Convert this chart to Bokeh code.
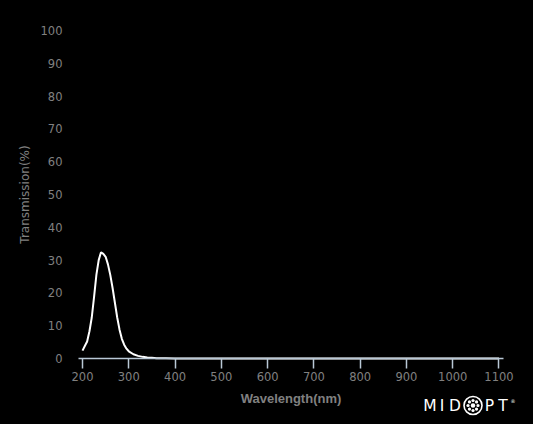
import math
from bokeh.plotting import figure
from bokeh.models import Label, FixedTicker, Range1d
from bokeh.embed import file_html
from bokeh.resources import INLINE

# ---- data ----
wavelength = [200, 205, 210, 215, 220, 225, 230, 235, 240, 245, 250, 255, 260, 265,
              270, 275, 280, 285, 290, 295, 300, 310, 320, 330, 340, 350, 360, 380,
              400, 500, 600, 700, 800, 900, 1000, 1100]
transmission = [2.4, 3.8, 5.2, 8.3, 12.5, 18.8, 25.5, 30.0, 32.4, 31.9, 31.0, 28.7, 25.5, 21.5,
                17.0, 12.5, 8.8, 6.0, 4.2, 3.0, 2.2, 1.3, 0.8, 0.5, 0.3, 0.2, 0.1, 0.05,
                0, 0, 0, 0, 0, 0, 0, 0]
x_ticks = [200, 300, 400, 500, 600, 700, 800, 900, 1000, 1100]
y_ticks = [0, 10, 20, 30, 40, 50, 60, 70, 80, 90, 100]

W, H = 533, 424
AX_L, AX_R, AX_B, AX_T = 78, 502.5, 358, 30   # axis extents (page px)
X_LO, X_HI = 191.35, 1108.65                  # x axis span in nm
PX_PER_NM = (AX_R - AX_L) / (X_HI - X_LO)
PX_PER_PCT = (AX_B - AX_T) / 100.0

# frame covers the whole canvas; axes are placed at fixed locations
x_start = X_LO - AX_L / PX_PER_NM
x_end = X_LO + (W - AX_L) / PX_PER_NM
y_start = -(H - AX_B) / PX_PER_PCT
y_end = 100 + AX_T / PX_PER_PCT

p = figure(width=W, height=H, output_backend="svg", toolbar_location=None,
           x_range=Range1d(x_start, x_end), y_range=Range1d(y_start, y_end),
           min_border=0, min_border_left=0, min_border_right=0, min_border_top=0,
           min_border_bottom=0,
           background_fill_color="black", border_fill_color="black", outline_line_color=None)

p.xgrid.visible = False
p.ygrid.visible = False

p.line(wavelength, transmission, line_color="white", line_width=2)

axis_col = "#b9c8d6"
label_col = "#808080"
xa = p.xaxis[0]
xa.fixed_location = 0
xa.bounds = (X_LO, X_HI)
xa.ticker = FixedTicker(ticks=x_ticks)
xa.axis_line_color = axis_col
xa.axis_line_width = 1.5
xa.major_tick_line_color = axis_col
xa.major_tick_line_width = 1.5
xa.major_tick_out = 10
xa.major_tick_in = 0
xa.minor_tick_line_color = None
xa.major_label_text_color = label_col
xa.major_label_text_font = "DejaVu Sans"
xa.major_label_text_font_size = "11.5px"
xa.major_label_standoff = 3
xa.axis_label = "Wavelength(nm)"
xa.axis_label_text_font = "Liberation Sans"
xa.axis_label_text_font_style = "bold"
xa.axis_label_text_font_size = "13px"
xa.axis_label_text_color = label_col
xa.axis_label_standoff = 7

ya = p.yaxis[0]
ya.fixed_location = X_LO
ya.bounds = (0, 100)
ya.ticker = FixedTicker(ticks=y_ticks)
ya.axis_line_color = None
ya.major_tick_line_color = None
ya.minor_tick_line_color = None
ya.major_tick_out = 0
ya.major_tick_in = 0
ya.major_label_text_color = label_col
ya.major_label_text_font = "DejaVu Sans"
ya.major_label_text_font_size = "11.5px"
ya.major_label_standoff = 16
ya.axis_label = "Transmission(%)"
ya.axis_label_text_font = "DejaVu Sans"
ya.axis_label_text_font_style = "normal"
ya.axis_label_text_font_size = "12px"
ya.axis_label_text_color = label_col
ya.axis_label_standoff = 6

# ---- logo (decoration), positioned in page pixels ----
def px_x(px):
    return X_LO + (px - AX_L) / PX_PER_NM
def px_y(py):
    return (AX_B - py) / PX_PER_PCT

def add_text(txt, px, py, size, color="white"):
    p.add_layout(Label(x=px_x(px), y=px_y(py), text=txt, text_color=color,
                       text_font="DejaVu Sans", text_font_size=size,
                       text_align="center", text_baseline="middle"))

logo_y = 405
for ch, cx in [("M", 429.5), ("I", 441.5), ("D", 454.5), ("P", 489), ("T", 502.5)]:
    add_text(ch, cx, logo_y, "15.5px")
add_text("®", 512.5, 400, "5px")

ccx, ccy = 472.5, 405
p.scatter([px_x(ccx)], [px_y(ccy)], size=18, marker="circle", fill_color=None,
          line_color="white", line_width=1.6)
dots_x = [px_x(ccx)]
dots_y = [px_y(ccy)]
for k in range(8):
    a = 2 * math.pi * k / 8
    dots_x.append(px_x(ccx + 5 * math.cos(a)))
    dots_y.append(px_y(ccy + 5 * math.sin(a)))
p.scatter(dots_x, dots_y, size=3.2, marker="circle", fill_color="white", line_color=None)
p.scatter([px_x(ccx)], [px_y(ccy)], size=4.5, marker="circle", fill_color="white", line_color=None)

html = file_html(p, INLINE)
html = html.replace("<body>", '<body style="background-color:#000000;">')
open("out.html", "w").write(html)
